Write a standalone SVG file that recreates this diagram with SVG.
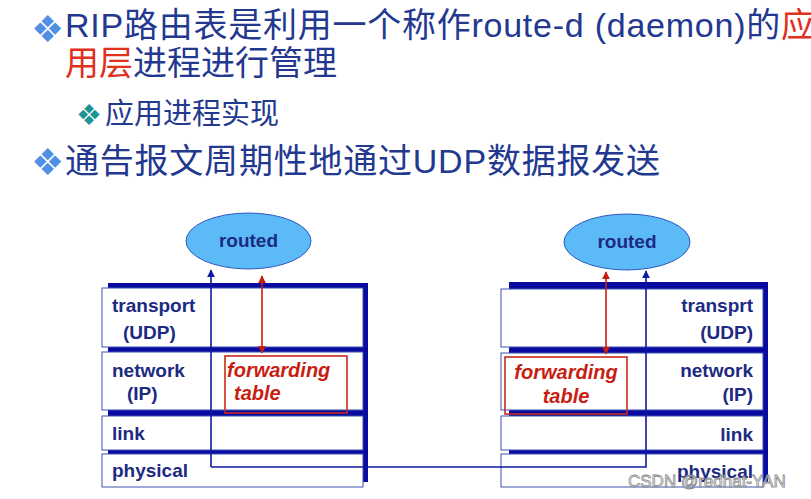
<svg xmlns="http://www.w3.org/2000/svg" width="811" height="499" viewBox="0 0 811 499">
<style>
.t{font-family:"Liberation Sans","Noto Sans CJK SC",sans-serif;fill:#23388f}
.red{fill:#e0301e}
.bul{font-family:"DejaVu Sans",sans-serif}
.lbl{font-family:"Liberation Sans",Arial,sans-serif;font-weight:bold;font-size:19px;fill:#1c2a82}
.ft{font-family:"Liberation Sans",Arial,sans-serif;font-weight:bold;font-style:italic;font-size:20px;fill:#c81e12}
.frame{fill:#0a0aa0}
.box{fill:#fff;stroke:#3a52b0;stroke-width:1}
.ell{fill:#5cbaf6;stroke:#2a58c0;stroke-width:1}
.rbox{fill:none;stroke:#c82a1e;stroke-width:1.6}
.bl{fill:none;stroke:#101aa0;stroke-width:1.6}
.rl{fill:none;stroke:#c81e12;stroke-width:1.6}
</style>
<defs>
<marker id="ab" viewBox="0 0 10 10" refX="9" refY="5" markerWidth="8" markerHeight="8" markerUnits="userSpaceOnUse" orient="auto-start-reverse"><path d="M0,0 L10,5 L0,10 z" fill="#101aa0"/></marker>
<marker id="ar" viewBox="0 0 10 10" refX="9" refY="5" markerWidth="8" markerHeight="8" markerUnits="userSpaceOnUse" orient="auto-start-reverse"><path d="M0,0 L10,5 L0,10 z" fill="#c81e12"/></marker>
</defs>
<rect width="811" height="499" fill="#fff"/>

<g id="title">
<text class="bul" x="31" y="42" font-size="37" fill="#4f8fe4">❖</text>
<text class="t" x="65" y="37" font-size="34" textLength="750" lengthAdjust="spacing">RIP路由表是利用一个称作route-d (daemon)的<tspan class="red">应</tspan></text>
<text class="t" x="65" y="75" font-size="34"><tspan class="red">用层</tspan>进程进行管理</text>
<text class="bul" x="76" y="125" font-size="29" fill="#1e9494">❖</text>
<text class="t" x="105" y="124" font-size="29">应用进程实现</text>
<text class="bul" x="31" y="175" font-size="37" fill="#4f8fe4">❖</text>
<text class="t" x="65" y="173" font-size="34" textLength="595" lengthAdjust="spacing">通告报文周期性地通过UDP数据报发送</text>
</g>

<g id="left-stack">
<rect class="frame" x="108" y="283" width="260" height="199"/>
<rect class="box" x="102" y="288" width="261" height="59"/>
<rect class="box" x="102" y="352" width="261" height="58"/>
<rect class="box" x="102" y="416" width="261" height="34"/>
<rect class="box" x="102" y="454" width="261" height="33"/>
<text class="lbl" x="112" y="312">transport</text>
<text class="lbl" x="123" y="339">(UDP)</text>
<text class="lbl" x="112" y="377">network</text>
<text class="lbl" x="127" y="400">(IP)</text>
<text class="lbl" x="112" y="440">link</text>
<text class="lbl" x="112" y="477">physical</text>
</g>

<g id="right-stack">
<rect class="frame" x="509" y="282" width="259" height="200"/>
<rect class="box" x="501" y="289" width="262" height="58"/>
<rect class="box" x="501" y="353" width="262" height="57"/>
<rect class="box" x="501" y="416" width="262" height="34"/>
<rect class="box" x="501" y="454" width="262" height="33"/>
<text class="lbl" x="753" y="312" text-anchor="end">transprt</text>
<text class="lbl" x="753" y="339" text-anchor="end">(UDP)</text>
<text class="lbl" x="753" y="377" text-anchor="end">network</text>
<text class="lbl" x="753" y="401" text-anchor="end">(IP)</text>
<text class="lbl" x="753" y="441" text-anchor="end">link</text>
<text class="lbl" x="753" y="478" text-anchor="end">physical</text>
</g>

<g id="routed-left">
<ellipse class="ell" cx="248.5" cy="241" rx="62.5" ry="28"/>
<text class="lbl" x="248.5" y="247" text-anchor="middle">routed</text>
</g>
<g id="routed-right">
<ellipse class="ell" cx="627" cy="242" rx="63" ry="28"/>
<text class="lbl" x="627" y="248" text-anchor="middle">routed</text>
</g>

<g id="fwd-left">
<rect class="rbox" x="225" y="356" width="122" height="57"/>
<text class="ft" x="227" y="377">forwarding</text>
<text class="ft" x="234" y="400">table</text>
</g>
<g id="fwd-right">
<rect class="rbox" x="505" y="357" width="122" height="57"/>
<text class="ft" x="566" y="379" text-anchor="middle">forwarding</text>
<text class="ft" x="566" y="403" text-anchor="middle">table</text>
</g>

<g id="connectors">
<path class="bl" d="M211,467 V270" marker-end="url(#ab)"/>
<path class="bl" d="M211,467 H646 V271" marker-end="url(#ab)"/>
<path class="rl" d="M262,276 V353" marker-start="url(#ar)" marker-end="url(#ar)"/>
<path class="rl" d="M606,272 V354" marker-start="url(#ar)" marker-end="url(#ar)"/>
</g>

<text x="628" y="487" font-family="Liberation Sans,Arial,sans-serif" font-size="17" fill="#fff" fill-opacity="0.6" stroke="#8a8a8a" stroke-width="0.8">CSDN @redhat-YAN</text>
</svg>
